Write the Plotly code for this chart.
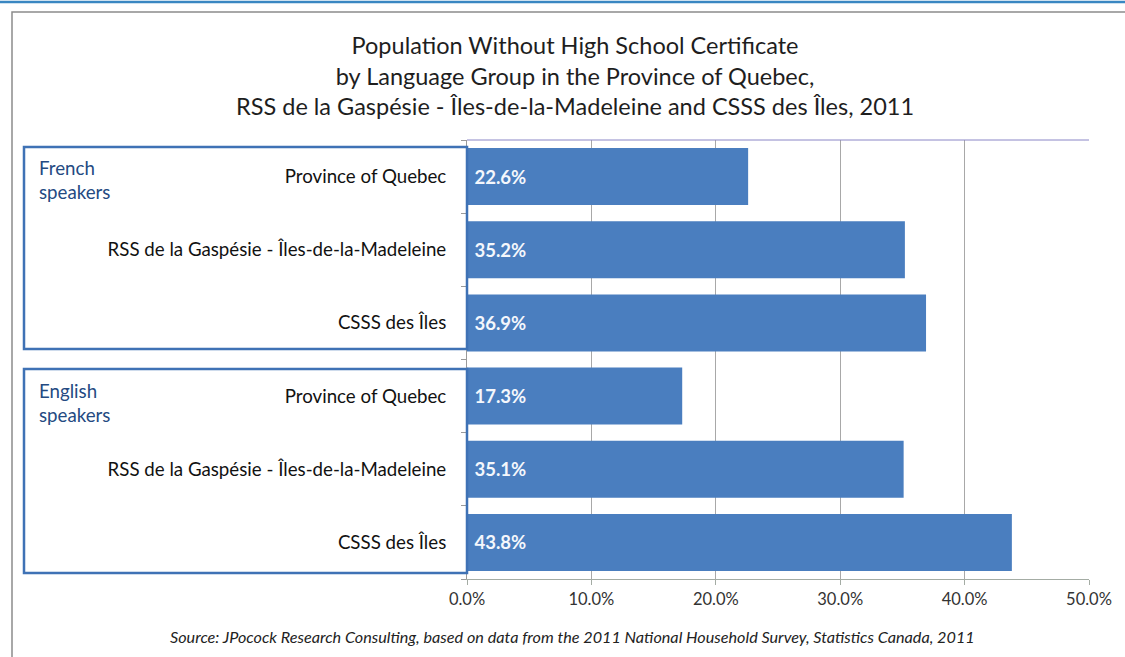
import plotly.graph_objects as go

# ---------------- data ----------------
group_names = ["French<br>speakers", "English<br>speakers"]
regions = ["Province of Quebec", "RSS de la Gaspésie - Îles-de-la-Madeleine", "CSSS des Îles"]
french_values = [22.6, 35.2, 36.9]
english_values = [17.3, 35.1, 43.8]
x_tick_values = [0, 10, 20, 30, 40, 50]
x_tick_labels = ["0.0%", "10.0%", "20.0%", "30.0%", "40.0%", "50.0%"]
title_text = ("Population Without High School Certificate<br>"
              "by Language Group in the Province of Quebec,<br>"
              "RSS de la Gaspésie - Îles-de-la-Madeleine and CSSS des Îles, 2011")
source_text = ("Source: JPocock Research Consulting, based on data from the 2011 "
               "National Household Survey, Statistics Canada, 2011")

labels = regions + regions
values = french_values + english_values
ypos = list(range(len(values)))

# ---------------- layout helpers (pixel -> paper) ----------------
W, H = 1125, 657
L, R, T, B = 467, 1089, 140, 579


def px(x):
    return (x - L) / (R - L)


def py(y):
    return (B - y) / (B - T)


FONT = "Lato"
BAR = "#4a7ebf"
BOX = "#3f72b5"

fig = go.Figure(
    go.Bar(
        x=values,
        y=ypos,
        orientation="h",
        marker=dict(color=BAR, line=dict(width=0)),
        width=0.78,
        text=[" " + f"{v:.1f}%" for v in values],
        textposition="inside",
        insidetextanchor="start",
        textfont=dict(color="#f4f7fc", size=18.5, family=FONT, weight="bold"),
        hoverinfo="skip",
    )
)

fig.update_layout(
    width=W,
    height=H,
    margin=dict(l=L, r=W - R, t=T, b=H - B),
    paper_bgcolor="white",
    plot_bgcolor="white",
    showlegend=False,
    font=dict(family=FONT, color="#222222"),
)

fig.update_xaxes(
    range=[0, 50],
    tickmode="array",
    tickvals=x_tick_values,
    ticktext=x_tick_labels,
    showgrid=True,
    gridcolor="#a8a8a8",
    gridwidth=1,
    showline=True,
    linecolor="#a4aca4",
    linewidth=1,
    ticks="outside",
    ticklen=5,
    tickcolor="#a4aca4",
    tickfont=dict(size=16.5, color="#333333", family=FONT),
    zeroline=False,
    fixedrange=True,
)

fig.update_yaxes(
    range=[5.5, -0.5],
    tickmode="array",
    tickvals=ypos,
    ticktext=labels,
    ticks="",
    ticklabelstandoff=16,
    showgrid=False,
    zeroline=False,
    showline=True,
    linecolor="#9a9a9a",
    linewidth=1,
    tickfont=dict(size=18.7, color="#111111", family=FONT),
    minor=dict(
        tickmode="array",
        tickvals=[i - 0.5 for i in range(len(values) + 1)],
        ticks="outside",
        ticklen=5,
        tickcolor="#9a9a9a",
        showgrid=False,
    ),
    fixedrange=True,
)

shapes = [
    # top blue rule
    dict(type="line", xref="paper", yref="paper", x0=px(-5), x1=px(W + 5), y0=py(2), y1=py(2),
         line=dict(color="#3a87c2", width=2.5), layer="above"),
    # outer chart frame
    dict(type="rect", xref="paper", yref="paper", x0=px(12), x1=px(W + 20), y0=py(12), y1=py(H + 20),
         line=dict(color="#8c8c8c", width=1.5), layer="below"),
    # plot area top border
    dict(type="line", xref="paper", yref="paper", x0=0, x1=1, y0=1, y1=1,
         line=dict(color="#8a86c6", width=1), layer="above"),
    # group boxes
    dict(type="rect", xref="paper", yref="paper", x0=px(24), x1=px(467), y0=py(147), y1=py(349),
         line=dict(color=BOX, width=2.5), layer="above"),
    dict(type="rect", xref="paper", yref="paper", x0=px(24), x1=px(467), y0=py(369), y1=py(573),
         line=dict(color=BOX, width=2.5), layer="above"),
]

annotations = [
    dict(text=title_text, xref="paper", yref="paper", x=px(575), y=py(75), xanchor="center",
         yanchor="middle", showarrow=False, align="center",
         font=dict(size=23.5, color="#1e1e1e", family=FONT)),
    dict(text=group_names[0], xref="paper", yref="paper", x=px(37), y=py(155), xanchor="left",
         yanchor="top", showarrow=False, align="left",
         font=dict(size=18.7, color="#244a82", family=FONT)),
    dict(text=group_names[1], xref="paper", yref="paper", x=px(37), y=py(378), xanchor="left",
         yanchor="top", showarrow=False, align="left",
         font=dict(size=18.7, color="#244a82", family=FONT)),
    dict(text="<i>" + source_text + "</i>", xref="paper", yref="paper", x=px(572), y=py(636),
         xanchor="center", yanchor="middle", showarrow=False,
         font=dict(size=16.2, color="#222222", family=FONT)),
]

fig.update_layout(shapes=shapes, annotations=annotations)

fig.write_html("out.html", config={"displayModeBar": False},
               post_script="document.body.style.margin='0';")
